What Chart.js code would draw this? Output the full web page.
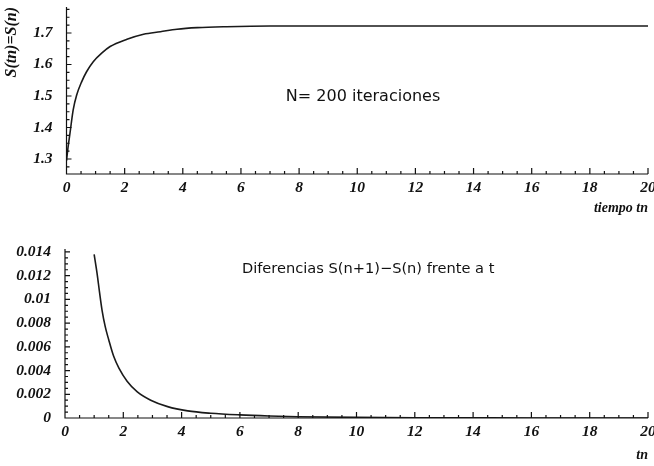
<!DOCTYPE html>
<html>
<head>
<meta charset="utf-8">
<script src="https://cdn.jsdelivr.net/npm/chart.js@4.4.0/dist/chart.umd.min.js"></script>
<style>
  body { margin: 0; background: #fff; width: 654px; height: 466px; overflow: hidden; }
  #top { position: absolute; left: 0; top: 0; }
  #bottom { position: absolute; left: 0; top: 235px; }
</style>
</head>
<body>
<canvas id="top" width="654" height="235"></canvas>
<canvas id="bottom" width="654" height="231"></canvas>
<script>
// upper plot: S(tn) against time
const topT = [0, 0.05, 0.12, 0.23, 0.35, 0.52, 0.69, 0.92, 1.21, 1.5, 2.08, 2.65, 3.23, 3.8, 4.5, 5.5, 7, 10, 14, 20];
const topS = [1.295, 1.335, 1.382, 1.456, 1.503, 1.545, 1.577, 1.609, 1.636, 1.657, 1.68, 1.696, 1.704, 1.712, 1.717, 1.72, 1.722, 1.722, 1.722, 1.722];

// lower plot: S(n+1)-S(n) against time
const difT = [1.0, 1.1, 1.19, 1.27, 1.38, 1.5, 1.67, 1.85, 2.13, 2.48, 2.94, 3.52, 4.21, 5, 6, 7, 8, 10, 12, 16, 20];
const difS = [0.0138, 0.0122, 0.0105, 0.0091, 0.0077, 0.0066, 0.0052, 0.0042, 0.0031, 0.0022, 0.0015, 0.00096, 0.0006, 0.0004, 0.00026, 0.00017, 0.00011, 0.00005, 0.00002, 0.000005, 0];

// tick labels
const xTicks = [0, 2, 4, 6, 8, 10, 12, 14, 16, 18, 20];
const topYTicks = [1.3, 1.4, 1.5, 1.6, 1.7];
const topYLabels = ['1.3', '1.4', '1.5', '1.6', '1.7'];
const difYTicks = [0, 0.002, 0.004, 0.006, 0.008, 0.01, 0.012, 0.014];
const difYLabels = ['0', '0.002', '0.004', '0.006', '0.008', '0.01', '0.012', '0.014'];

function steps(from, to, step) {
  const out = [];
  for (let v = from; v <= to + step / 1000; v += step) out.push(+v.toFixed(6));
  return out;
}

const tickFont = { family: 'Liberation Serif', size: 15.5, style: 'italic', weight: 'bold' };
const titleFont = { family: 'Liberation Serif', size: 14, style: 'italic', weight: 'bold' };
const ink = '#111';

// axis lines with inward ticks, like the original plot
const axisMarks = {
  id: 'axisMarks',
  afterDatasetsDraw(chart, args, opts) {
    const { ctx, chartArea: a, scales: { x, y } } = chart;
    ctx.save();
    ctx.strokeStyle = ink;
    ctx.lineWidth = 1.2;
    ctx.beginPath();
    ctx.moveTo(a.left, a.top);
    ctx.lineTo(a.left, a.bottom);
    ctx.lineTo(a.right, a.bottom);
    opts.xMinor.forEach(v => {
      const px = x.getPixelForValue(v);
      ctx.moveTo(px, a.bottom);
      ctx.lineTo(px, a.bottom - 3);
    });
    xTicks.forEach(v => {
      const px = x.getPixelForValue(v);
      ctx.moveTo(px, a.bottom);
      ctx.lineTo(px, a.bottom - 6);
    });
    opts.yMinor.forEach(v => {
      const py = y.getPixelForValue(v);
      ctx.moveTo(a.left, py);
      ctx.lineTo(a.left + 3, py);
    });
    opts.yMajor.forEach(v => {
      const py = y.getPixelForValue(v);
      ctx.moveTo(a.left, py);
      ctx.lineTo(a.left + 5, py);
    });
    ctx.stroke();

    ctx.fillStyle = ink;
    ctx.font = opts.noteSize + 'px "DejaVu Sans"';
    ctx.textAlign = 'center';
    ctx.textBaseline = 'middle';
    ctx.fillText(opts.note, x.getPixelForValue(opts.noteAt[0]), y.getPixelForValue(opts.noteAt[1]));
    ctx.restore();
  }
};

function makeChart(id, xs, ys, cfg) {
  return new Chart(document.getElementById(id), {
    type: 'line',
    data: {
      datasets: [{
        data: xs.map((t, i) => ({ x: t, y: ys[i] })),
        borderColor: '#1a1a1a',
        borderWidth: 1.6,
        pointRadius: 0,
        cubicInterpolationMode: 'monotone',
        fill: false
      }]
    },
    options: {
      responsive: false,
      animation: false,
      layout: { padding: { top: cfg.padTop, right: 6, left: 0, bottom: 0 } },
      plugins: {
        legend: { display: false },
        tooltip: { enabled: false },
        axisMarks: cfg.marks
      },
      scales: {
        x: {
          type: 'linear',
          min: 0,
          max: 20,
          afterBuildTicks: s => { s.ticks = xTicks.map(v => ({ value: v })); },
          afterFit: s => { s.height = cfg.xHeight; s.paddingLeft = 0; s.paddingRight = 0; },
          grid: { display: false, drawTicks: false },
          border: { display: false },
          ticks: { font: tickFont, color: ink, padding: 5, maxRotation: 0, autoSkip: false, callback: v => String(v) },
          title: { display: true, text: cfg.xTitle, align: 'end', font: titleFont, color: ink,
                   padding: { top: 0, bottom: cfg.xTitlePad } }
        },
        y: {
          type: 'linear',
          min: cfg.yMin,
          max: cfg.yMax,
          afterBuildTicks: s => { s.ticks = cfg.yTicks.map(v => ({ value: v })); },
          afterFit: s => { s.width = cfg.yWidth; s.paddingTop = 0; s.paddingBottom = 0; },
          grid: { display: false, drawTicks: false },
          border: { display: false },
          ticks: { font: tickFont, color: ink, padding: 14, autoSkip: false,
                   callback: v => cfg.yLabels[cfg.yTicks.indexOf(v)] },
          title: { display: !!cfg.yTitle, text: cfg.yTitle, align: 'end', color: ink, padding: { top: 2, bottom: 0 },
                   font: { family: 'Liberation Serif', size: 16, style: 'italic', weight: 'bold' } }
        }
      }
    },
    plugins: [axisMarks]
  });
}

makeChart('top', topT, topS, {
  padTop: 7, xHeight: 61, yWidth: 66.5, xTitlePad: 18,
  yMin: 1.2524, yMax: 1.7825,
  yTicks: topYTicks, yLabels: topYLabels,
  xTitle: 'tiempo tn', yTitle: 'S(tn)=S(n)',
  marks: { xMinor: steps(0, 20, 0.5), yMinor: steps(1.275, 1.775, 0.025), yMajor: topYTicks,
           note: 'N= 200 iteraciones', noteSize: 16, noteAt: [10.2, 1.497] }
});

makeChart('bottom', difT, difS, {
  padTop: 14, xHeight: 48, yWidth: 65, xTitlePad: 2,
  yMin: 0, yMax: 0.01425,
  yTicks: difYTicks, yLabels: difYLabels,
  xTitle: 'tn', yTitle: '',
  marks: { xMinor: steps(0, 20, 0.5), yMinor: steps(0, 0.014, 0.0005), yMajor: difYTicks,
           note: 'Diferencias S(n+1)−S(n) frente a t', noteSize: 14.6, noteAt: [10.4, 0.01257] }
});
</script>
</body>
</html>
